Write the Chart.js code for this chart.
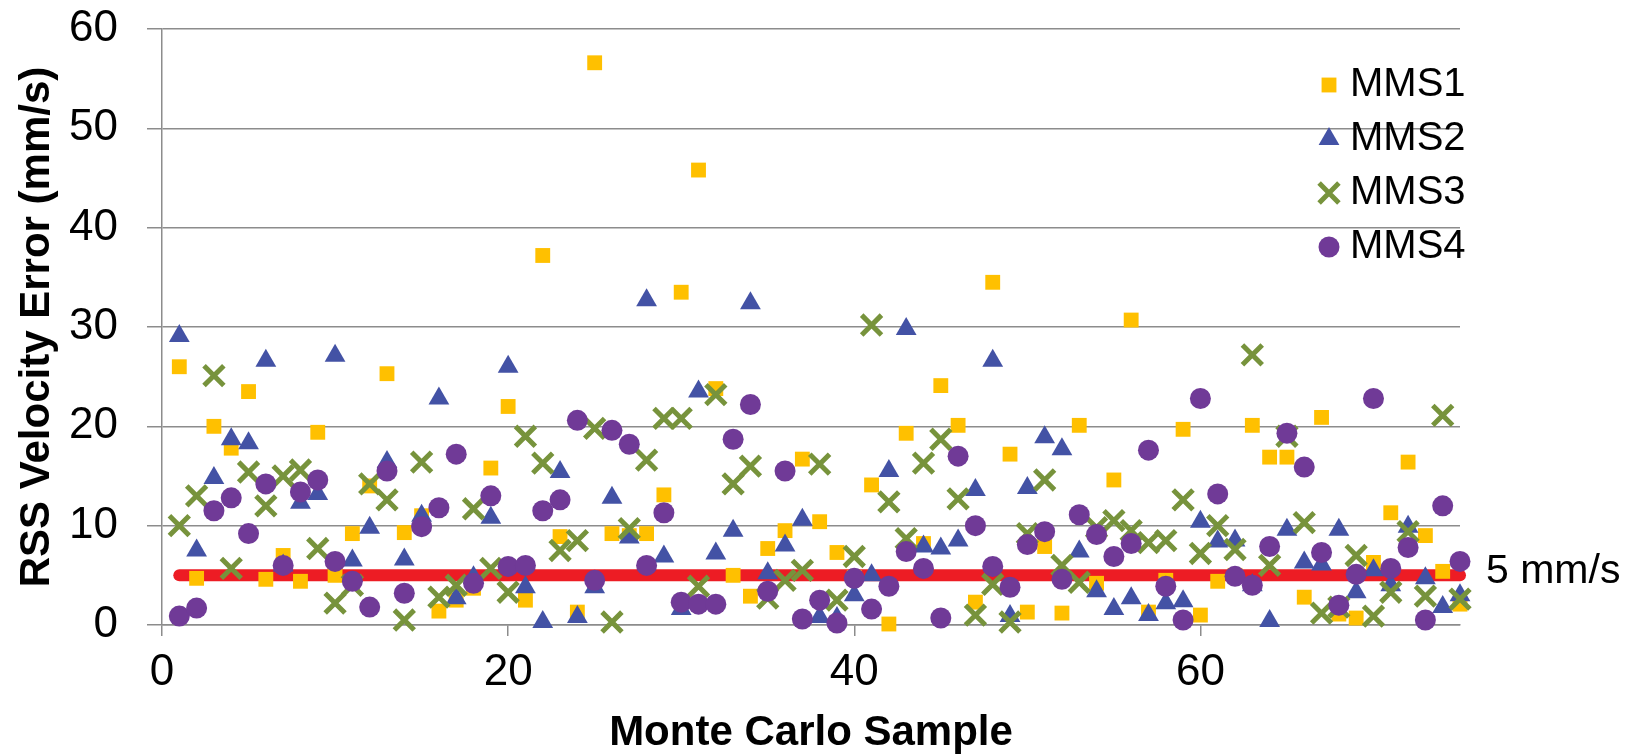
<!DOCTYPE html>
<html>
<head>
<meta charset="utf-8">
<script src="https://cdn.jsdelivr.net/npm/chart.js@4.4.1/dist/chart.umd.min.js"></script>
<style>
  html, body { margin: 0; padding: 0; background: #fff; }
  #wrap { width: 1641px; height: 754px; position: relative; }
</style>
</head>
<body>
<div id="wrap"><canvas id="grafico"></canvas></div>
<script>
// numero de muestra Monte Carlo (1..75)
const samples = Array.from({ length: 75 }, (_, i) => i + 1);

const seriesNames = ['MMS1', 'MMS2', 'MMS3', 'MMS4'];

const mms1 = [26.0, 4.7, 20.0, 17.8, 23.5, 4.6, 7.0, 4.4, 19.4, 5.0,
  9.2, 14.0, 25.3, 9.3, 11.0, 1.4, 2.5, 3.7, 15.8, 22.0,
  2.5, 37.2, 8.9, 1.3, 56.6, 9.2, 9.0, 9.2, 13.1, 33.5,
  45.8, 23.8, 5.0, 2.9, 7.7, 9.5, 16.7, 10.4, 7.3, 4.8,
  14.1, 0.1, 19.3, 8.2, 24.1, 20.1, 2.3, 34.5, 17.2, 1.3,
  7.9, 1.2, 20.1, 4.2, 14.6, 30.7, 1.3, 4.5, 19.7, 1.0,
  4.4, 5.0, 20.1, 16.9, 16.9, 2.8, 20.9, 1.1, 0.7, 6.3,
  11.3, 16.4, 9.0, 5.4, 2.1];

const mms2 = [29.1, 7.5, 14.8, 18.7, 18.3, 26.6, 6.0, 12.3, 13.2, 27.1,
  6.5, 9.8, 16.4, 6.6, 11.0, 22.8, 2.7, 4.8, 10.8, 26.0,
  3.8, 0.3, 15.4, 0.8, 3.8, 12.8, 8.8, 32.7, 6.9, 1.6,
  23.5, 7.2, 9.5, 32.4, 5.2, 8.0, 10.6, 0.8, 0.7, 3.0,
  5.0, 15.5, 29.8, 7.9, 7.7, 8.5, 13.6, 26.6, 0.9, 13.8,
  18.9, 17.7, 7.4, 3.4, 1.6, 2.7, 1.0, 2.2, 2.4, 10.4,
  8.4, 8.5, 4.0, 0.4, 9.6, 6.3, 6.1, 9.6, 3.3, 5.5,
  4.0, 9.9, 4.7, 1.8, 3.0];

const mms3 = [10.0, 13.0, 25.1, 5.7, 15.4, 12.0, 15.0, 15.6, 7.7, 2.2,
  4.0, 14.2, 12.6, 0.5, 16.4, 2.8, 4.0, 11.7, 5.7, 3.3,
  19.0, 16.3, 7.5, 8.5, 19.8, 0.3, 9.7, 16.6, 20.8, 20.8,
  3.9, 23.2, 14.2, 16.0, 2.7, 4.5, 5.5, 16.2, 2.5, 6.9,
  30.2, 12.4, 8.7, 16.3, 18.7, 12.7, 1.0, 4.1, 0.3, 9.2,
  14.6, 6.0, 4.3, 9.8, 10.5, 9.5, 8.3, 8.5, 12.6, 7.2,
  10.0, 7.6, 27.2, 6.0, 19.0, 10.3, 1.2, 1.8, 7.0, 0.9,
  3.3, 9.4, 2.9, 21.1, 2.6];

const mms4 = [0.9, 1.7, 11.5, 12.8, 9.2, 14.2, 6.0, 13.4, 14.6, 6.4,
  4.4, 1.8, 15.5, 3.2, 9.9, 11.8, 17.2, 4.2, 13.0, 5.9,
  6.0, 11.5, 12.6, 20.6, 4.5, 19.6, 18.2, 6.0, 11.3, 2.3,
  2.1, 2.1, 18.7, 22.2, 3.4, 15.5, 0.6, 2.5, 0.2, 4.7,
  1.6, 3.9, 7.4, 5.7, 0.7, 17.0, 10.0, 5.9, 3.8, 8.1,
  9.4, 4.6, 11.1, 9.1, 6.9, 8.2, 17.6, 3.9, 0.5, 22.8,
  13.2, 4.9, 4.0, 7.9, 19.3, 15.9, 7.3, 2.0, 5.1, 22.8,
  5.7, 7.8, 0.5, 12.0, 6.4];

// limite de 5 mm/s
const thresholdValue = 5;
const thresholdSpan = [1, 75];
const thresholdLabel = '5 mm/s';

const yTicks = [0, 10, 20, 30, 40, 50, 60];
const xTicks = [0, 20, 40, 60];

const FONT = "'Liberation Sans', Arial, sans-serif";
const GRID = '#8c8c8c';

const estilos = [
  { style: 'rect', radius: 10.5, color: '#FFC000', border: 0 },
  { style: 'triangle', radius: 12, color: '#4352A5', border: 0 },
  { style: 'crossRot', radius: 14, color: '#77933C', border: 5 },
  { style: 'circle', radius: 10.5, color: '#703A97', border: 0 }
];

const toPoints = (values) => values.map((v, i) => ({ x: samples[i], y: v }));

const seriesValues = [mms1, mms2, mms3, mms4];

const datasets = seriesValues.map((vals, i) => ({
  label: seriesNames[i],
  data: toPoints(vals),
  pointStyle: estilos[i].style,
  pointRadius: estilos[i].radius,
  pointHoverRadius: estilos[i].radius,
  backgroundColor: estilos[i].color,
  borderColor: estilos[i].color,
  pointBorderWidth: estilos[i].border,
  pointHoverBorderWidth: estilos[i].border,
  showLine: false,
  clip: false,
  order: 4 - i
}));

datasets.push({
  label: thresholdLabel,
  data: thresholdSpan.map(x => ({ x: x, y: thresholdValue })),
  showLine: true,
  borderColor: '#ED1C24',
  backgroundColor: '#ED1C24',
  borderWidth: 12,
  borderCapStyle: 'round',
  pointRadius: 0,
  pointHoverRadius: 0,
  clip: false,
  order: 5
});

// leyenda dibujada dentro del area del grafico, como en la figura
const leyenda = {
  id: 'leyenda',
  afterDatasetsDraw(chart) {
    const ctx = chart.ctx;
    const area = chart.chartArea;
    const mx = area.right - 131;
    ctx.save();
    seriesNames.forEach((name, i) => {
      const y = 85 + i * 54;
      const st = estilos[i];
      ctx.fillStyle = st.color;
      ctx.strokeStyle = st.color;
      ctx.lineWidth = st.border;
      Chart.helpers.drawPoint(ctx, {
        pointStyle: st.style, radius: st.radius, rotation: 0, borderWidth: st.border
      }, mx, y);
      ctx.fillStyle = '#000';
      ctx.font = '40px ' + FONT;
      ctx.textBaseline = 'middle';
      ctx.textAlign = 'left';
      ctx.fillText(name, mx + 21, y);
    });
    // etiqueta de la linea roja
    const yLine = chart.scales.y.getPixelForValue(thresholdValue);
    ctx.font = '41px ' + FONT;
    ctx.fillText(thresholdLabel, area.right + 26, yLine - 4);
    ctx.restore();
  }
};

const ctx = document.getElementById('grafico').getContext('2d');
const myChart = new Chart(ctx, {
  type: 'scatter',
  data: { datasets: datasets },
  options: {
    responsive: true,
    maintainAspectRatio: false,
    animation: false,
    events: [],
    layout: { padding: { top: 29, right: 181, bottom: 0, left: 0 } },
    plugins: {
      legend: { display: false },
      tooltip: { enabled: false }
    },
    scales: {
      x: {
        type: 'linear',
        min: 0,
        max: 75,
        afterBuildTicks: (scale) => { scale.ticks = xTicks.map(v => ({ value: v })); },
        afterFit: (scale) => { scale.height = 129; scale.paddingLeft = 0; scale.paddingRight = 0; },
        grid: { drawOnChartArea: false, drawTicks: true, tickLength: 11, color: GRID, lineWidth: 1.5 },
        border: { color: GRID, width: 1.5 },
        ticks: { color: '#000', padding: 10, font: { family: FONT, size: 44 } },
        title: {
          display: true,
          text: 'Monte Carlo Sample',
          color: '#000',
          padding: 0,
          font: { family: FONT, size: 42, weight: 'bold', lineHeight: 1 }
        }
      },
      y: {
        min: 0,
        max: 60,
        afterBuildTicks: (scale) => { scale.ticks = yTicks.map(v => ({ value: v })); },
        afterFit: (scale) => { scale.width = 162; scale.paddingTop = 0; scale.paddingBottom = 0; },
        grid: { color: GRID, lineWidth: 1.5, drawTicks: true, tickLength: 15 },
        border: { color: GRID, width: 1.5 },
        ticks: { color: '#000', padding: 29, font: { family: FONT, size: 44 } },
        title: {
          display: true,
          text: 'RSS Velocity Error (mm/s)',
          color: '#000',
          padding: { top: 16, bottom: 0 },
          font: { family: FONT, size: 42, weight: 'bold', lineHeight: 1 }
        }
      }
    }
  },
  plugins: [leyenda]
});
</script>
</body>
</html>
